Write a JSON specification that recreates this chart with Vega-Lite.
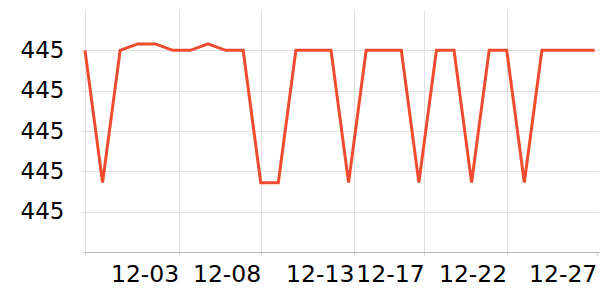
{
  "$schema": "https://vega.github.io/schema/vega-lite/v6.json",
  "width": 514,
  "height": 242,
  "autosize": "none",
  "padding": {"left": 85, "top": 10, "right": 1, "bottom": 48},
  "config": {"view": {"stroke": null}, "font": "DejaVu Sans"},
  "data": {
    "values": [
      {"date": "2023-11-28T00:00:00", "value": 445.05},
      {"date": "2023-11-29T00:00:00", "value": 445.0172},
      {"date": "2023-11-30T00:00:00", "value": 445.05},
      {"date": "2023-12-01T00:00:00", "value": 445.0516},
      {"date": "2023-12-02T00:00:00", "value": 445.0516},
      {"date": "2023-12-03T00:00:00", "value": 445.05},
      {"date": "2023-12-04T00:00:00", "value": 445.05},
      {"date": "2023-12-05T00:00:00", "value": 445.0516},
      {"date": "2023-12-06T00:00:00", "value": 445.05},
      {"date": "2023-12-07T00:00:00", "value": 445.05},
      {"date": "2023-12-08T00:00:00", "value": 445.0172},
      {"date": "2023-12-09T00:00:00", "value": 445.0172},
      {"date": "2023-12-10T00:00:00", "value": 445.05},
      {"date": "2023-12-11T00:00:00", "value": 445.05},
      {"date": "2023-12-12T00:00:00", "value": 445.05},
      {"date": "2023-12-13T00:00:00", "value": 445.0172},
      {"date": "2023-12-14T00:00:00", "value": 445.05},
      {"date": "2023-12-15T00:00:00", "value": 445.05},
      {"date": "2023-12-16T00:00:00", "value": 445.05},
      {"date": "2023-12-17T00:00:00", "value": 445.0172},
      {"date": "2023-12-18T00:00:00", "value": 445.05},
      {"date": "2023-12-19T00:00:00", "value": 445.05},
      {"date": "2023-12-20T00:00:00", "value": 445.0172},
      {"date": "2023-12-21T00:00:00", "value": 445.05},
      {"date": "2023-12-22T00:00:00", "value": 445.05},
      {"date": "2023-12-23T00:00:00", "value": 445.0172},
      {"date": "2023-12-24T00:00:00", "value": 445.05},
      {"date": "2023-12-25T00:00:00", "value": 445.05},
      {"date": "2023-12-26T00:00:00", "value": 445.05},
      {"date": "2023-12-27T00:00:00", "value": 445.05}
    ]
  },
  "mark": {"type": "line", "color": "#ef4b2f", "strokeWidth": 3, "clip": false},
  "encoding": {
    "x": {
      "field": "date",
      "type": "temporal",
      "scale": {
        "domain": [
          {"year": 2023, "month": 11, "date": 28},
          {"year": 2023, "month": 12, "date": 27, "hours": 6}
        ]
      },
      "axis": {
        "title": null,
        "values": [
          {"year": 2023, "month": 11, "date": 28},
          {"year": 2023, "month": 12, "date": 3, "hours": 8},
          {"year": 2023, "month": 12, "date": 8},
          {"year": 2023, "month": 12, "date": 13, "hours": 7, "minutes": 12},
          {"year": 2023, "month": 12, "date": 17, "hours": 7, "minutes": 12},
          {"year": 2023, "month": 12, "date": 22},
          {"year": 2023, "month": 12, "date": 27, "hours": 3}
        ],
        "format": "%m-%d",
        "labelExpr": "datum.label == '11-28' ? '' : datum.label",
        "labelAlign": "right",
        "labelFontSize": 23.5,
        "labelColor": "#000000",
        "labelPadding": 7,
        "labelFlush": false,
        "labelOverlap": false,
        "labelBound": false,
        "domainColor": "#b8b8b8",
        "tickColor": "#cccccc",
        "tickSize": 3,
        "grid": true,
        "gridColor": {
          "condition": {"test": "datum.value > time(datetime(2023, 11, 26))", "value": "transparent"},
          "value": "#e0e0e0"
        }
      }
    },
    "y": {
      "field": "value",
      "type": "quantitative",
      "scale": {"domain": [445.0, 445.06], "zero": false, "nice": false},
      "axis": {
        "title": null,
        "values": [445.0, 445.01, 445.02, 445.03, 445.04, 445.05],
        "format": ".2f",
        "labelExpr": "datum.value < 445.005 ? '' : format(datum.value, '.0f')",
        "labelFontSize": 23,
        "labelColor": "#000000",
        "labelPadding": 17,
        "labelOverlap": false,
        "domain": false,
        "ticks": true,
        "tickSize": 4,
        "tickColor": "#e0e0e0",
        "grid": true,
        "gridColor": "#e0e0e0"
      }
    }
  }
}
